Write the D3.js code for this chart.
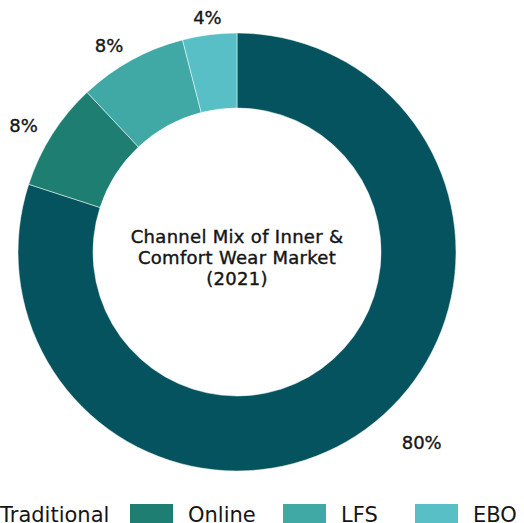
<!DOCTYPE html>
<html>
<head>
<meta charset="utf-8">
<script src="https://cdn.jsdelivr.net/npm/d3@7"></script>
<style>
  html, body { margin: 0; padding: 0; background: #fff; overflow: hidden; }
  svg { display: block; font-family: "DejaVu Sans", "Noto Sans", sans-serif; }
</style>
</head>
<body>
<svg id="chart" width="524" height="523"></svg>
<script>
// Channel shares of the inner & comfort wear market, 2021
const channels = ["Traditional", "Online", "LFS", "EBO"];
const shares = [80, 8, 8, 4];
const colors = ["#04535F", "#1E7E71", "#41A9A5", "#57BFC5"];
const titleLines = ["Channel Mix of Inner &", "Comfort Wear Market", "(2021)"];

const svg = d3.select("#chart");
const cx = 237, cy = 252;
const outerR = 219, innerR = 144, labelR = 236;
const ink = "#151515";

const color = d3.scaleOrdinal().domain(channels).range(colors);
const data = channels.map((c, i) => ({ channel: c, value: shares[i] }));

const pie = d3.pie().value(d => d.value).sort(null);
const arc = d3.arc().innerRadius(innerR).outerRadius(outerR);
const labelArc = d3.arc().innerRadius(labelR).outerRadius(labelR);

const g = svg.append("g").attr("transform", `translate(${cx},${cy})`);
const arcs = pie(data);

g.selectAll("path.slice")
  .data(arcs)
  .join("path")
  .attr("class", "slice")
  .attr("d", arc)
  .attr("fill", d => color(d.data.channel))
  .attr("stroke", "#ffffff")
  .attr("stroke-width", 0.5);

// value labels outside the ring: left-side labels end at the anchor point,
// right-side labels start a little past it, labels near the top are centred
const side = d => Math.sin((d.startAngle + d.endAngle) / 2);
g.selectAll("text.pct")
  .data(arcs)
  .join("text")
  .attr("class", "pct")
  .attr("transform", d => `translate(${labelArc.centroid(d)})`)
  .attr("dx", d => side(d) > 0.3 ? 26 : 0)
  .attr("text-anchor", d => side(d) < -0.3 ? "end" : side(d) > 0.3 ? "start" : "middle")
  .attr("dominant-baseline", "central")
  .attr("font-size", 18)
  .attr("fill", ink)
  .attr("stroke", ink)
  .attr("stroke-width", 0.35)
  .text(d => d.data.value + "%");

// centre title
const title = g.append("text")
  .attr("text-anchor", "middle")
  .attr("font-size", 18)
  .attr("letter-spacing", 0.3)
  .attr("fill", ink)
  .attr("stroke", ink)
  .attr("stroke-width", 0.4);
title.selectAll("tspan")
  .data(titleLines)
  .join("tspan")
  .attr("x", 0)
  .attr("y", (d, i) => -9 + i * 21)
  .text(d => d);

// legend row along the bottom
const legend = svg.append("g").attr("transform", "translate(0,504)");
const swW = 43, swH = 20, swGap = 15;
let x = -58;
channels.forEach(c => {
  const item = legend.append("g").attr("transform", `translate(${x},0)`);
  item.append("rect").attr("width", swW).attr("height", swH).attr("fill", color(c));
  item.append("text")
    .attr("x", swW + swGap)
    .attr("y", 18)
    .attr("font-size", 21)
    .attr("fill", ink)
    .text(c);
  x += 111 + c.length * 7;
});
</script>
</body>
</html>
